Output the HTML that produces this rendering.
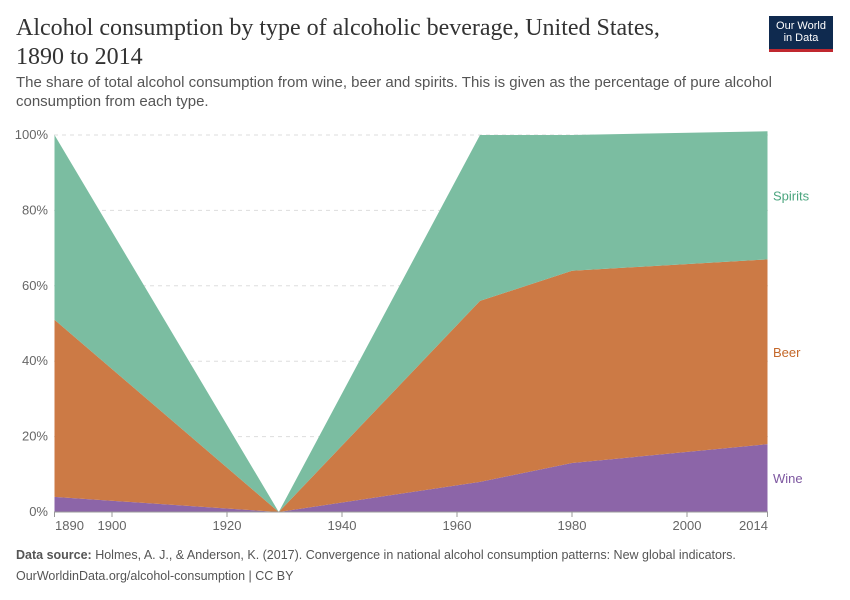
<!DOCTYPE html>
<html><head><meta charset="utf-8">
<style>
body{margin:0;background:#fff;font-family:"Liberation Sans",sans-serif;}
#wrap{position:relative;width:850px;height:600px;overflow:hidden;}
h1{position:absolute;left:16px;top:14px;margin:0;font-family:"Liberation Serif",serif;font-weight:normal;font-size:24px;line-height:29px;color:#333;width:660px;}
.sub{position:absolute;left:16px;top:73px;font-size:15px;line-height:19px;color:#555;width:760px;}
.logo{position:absolute;left:769px;top:16px;width:64px;height:36px;background:#0f2a4f;color:#fff;font-size:11px;line-height:12px;text-align:center;padding-top:4px;box-sizing:border-box;border-bottom:3px solid #c0282f;}
.foot{position:absolute;left:16px;font-size:12.5px;color:#555;}
</style></head><body>
<div id="wrap">
<h1>Alcohol consumption by type of alcoholic beverage, United States, 1890 to 2014</h1>
<div class="sub">The share of total alcohol consumption from wine, beer and spirits. This is given as the percentage of pure alcohol consumption from each type.</div>
<div class="logo">Our World<br>in Data</div>
<svg id="chart" width="850" height="600" style="position:absolute;left:0;top:0"></svg>
<div class="foot" style="top:548px"><b>Data source:</b> Holmes, A. J., &amp; Anderson, K. (2017). Convergence in national alcohol consumption patterns: New global indicators.</div>
<div class="foot" style="top:569px">OurWorldinData.org/alcohol-consumption | CC BY</div>
</div>
<script>
const years=[1890,1929,1964,1980,2014];
const wine=[4,0,8,13,18];
const beer=[47,0,48,51,49];
const spirits=[49,0,44,36,34];
const yTicks=[0,20,40,60,80,100];
const xTicks=[1890,1900,1920,1940,1960,1980,2000,2014];
const seriesNames=["Wine","Beer","Spirits"];
const colors=["#8c65a8","#cc7a45","#7bbda1"];
const labelColors=["#7d57a0","#c4682a","#4aa57e"];
const NS="http://www.w3.org/2000/svg";
const svg=document.getElementById('chart');
const x=y=>54.5+(y-1890)*5.75;
const yv=v=>512-v*3.77;
function mk(t,a){const e=document.createElementNS(NS,t);for(const k in a)e.setAttribute(k,a[k]);svg.appendChild(e);return e;}
yTicks.forEach(t=>{
 const l=mk('line',{x1:54,x2:768,y1:yv(t),y2:yv(t),stroke:'#ddd','stroke-dasharray':t?'4,4':'0'});
 
 
 const tx=mk('text',{x:48,y:yv(t)+4,'text-anchor':'end','font-size':13,fill:'#666','font-family':'Liberation Sans'});
 tx.textContent=t+'%';
 
 
});
const series=[wine,beer,spirits];
let base=years.map(()=>0);
series.forEach((s,i)=>{
 const top=base.map((b,j)=>b+s[j]);
 let d='M'+years.map((yr,j)=>x(yr)+','+yv(top[j])).join('L');
 for(let j=years.length-1;j>=0;j--)d+='L'+x(years[j])+','+yv(base[j]);
 const p=mk('path',{d:d+'Z',fill:colors[i]});
 
 
 const last=years.length-1;
 const mid=(base[last]+top[last])/2;
 const lt=mk('text',{x:773,y:yv(mid)+5,'font-size':13,fill:labelColors[i],'font-family':'Liberation Sans'});
 lt.textContent=seriesNames[i];
 
 
 base=top;
});
mk('line',{x1:54,x2:768,y1:512,y2:512,stroke:'#999'});
xTicks.forEach(t=>{
 const l=mk('line',{x1:x(t),x2:x(t),y1:512,y2:517,stroke:'#999'});
 
 
 const tx=mk('text',{x:x(t)+(t===1890?15:t===2014?-14:0),y:530,'text-anchor':'middle','font-size':13,fill:'#666','font-family':'Liberation Sans'});
 tx.textContent=t;
 
 
});
</script>
</body></html>
